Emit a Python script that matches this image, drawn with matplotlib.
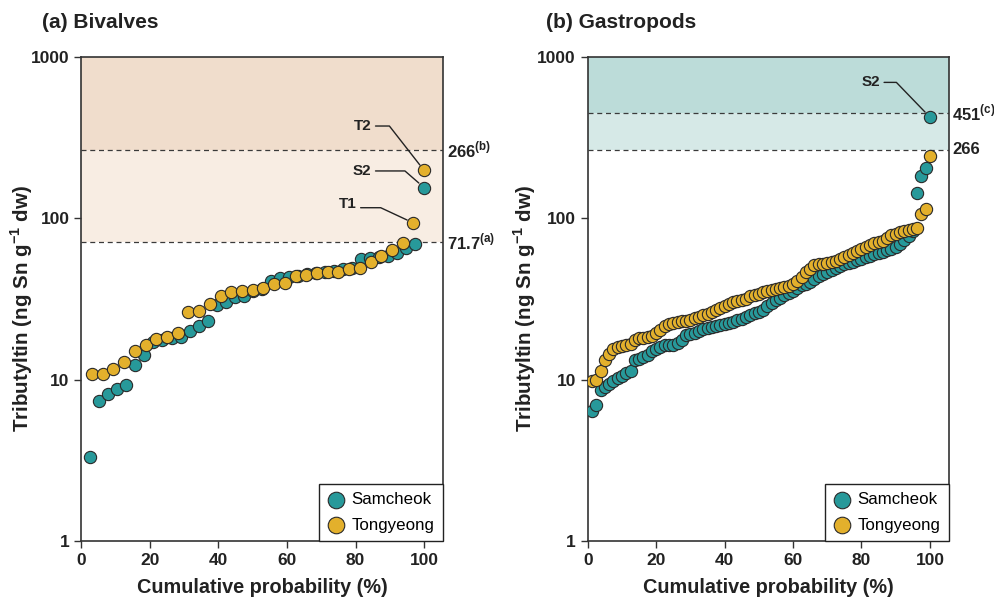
import numpy as np
import matplotlib
matplotlib.use("Agg")
import matplotlib.pyplot as plt
from matplotlib.ticker import FixedLocator, NullLocator
import matplotlib.transforms as mtransforms

plt.rcParams['font.family'] = ['Liberation Sans', 'DejaVu Sans']
plt.rcParams['mathtext.fontset'] = 'custom'
plt.rcParams['mathtext.rm'] = 'Liberation Sans'
plt.rcParams['mathtext.bf'] = 'Liberation Sans:bold'

TEAL = '#27999a'
GOLD = '#e3b02c'

# --- (a) Bivalves: TBT (ng Sn/g dw), sorted ---
biv_samcheok = [3.3, 7.4, 8.1, 8.8, 9.3, 12.4, 14.3, 17.2, 17.6, 18.1,
                18.5, 20.1, 21.6, 23.2, 29.0, 30.5, 32.7, 33.2, 35.2, 36.5,
                40.9, 42.5, 43.5, 44.0, 45.0, 46.0, 46.5, 47.2, 48.6, 49.5,
                55.7, 56.6, 57.4, 58.0, 60.8, 65.8, 69.1, 155]
biv_tongyeong = [10.9, 10.9, 11.7, 12.9, 15.1, 16.3, 17.9, 18.5, 19.4, 26.4,
                 26.8, 29.6, 32.9, 34.8, 35.5, 36.0, 37.0, 39.4, 39.8, 44.0,
                 44.4, 45.9, 46.3, 46.5, 48.6, 49.1, 53.9, 58.4, 63.4, 70.1,
                 93.6, 198]

# --- (b) Gastropods ---
gas_samcheok = [6.4, 7.0, 8.6, 9.0, 9.4, 9.8, 10.2, 10.6, 11.0, 11.3,
                13.2, 13.5, 13.9, 14.3, 15.0, 15.6, 16.0, 16.3, 16.4, 16.5,
                16.9, 17.6, 18.8, 19.2, 19.5, 20.1, 20.5, 20.8, 21.2, 21.5,
                21.8, 22.2, 22.6, 22.9, 23.3, 23.8, 24.5, 25.2, 25.9, 26.3,
                27.2, 28.5, 29.8, 31.0, 32.3, 33.3, 34.4, 35.5, 37.0, 38.6,
                39.2, 40.2, 42.0, 43.6, 45.0, 46.4, 47.8, 49.4, 50.7, 51.8,
                52.8, 53.9, 55.0, 56.1, 57.3, 58.5, 59.7, 60.9, 62.1, 63.4,
                64.9, 66.5, 69.0, 73.0, 77.5, 84.0, 143, 183, 205, 424]
gas_tongyeong = [9.8, 10.0, 11.3, 13.2, 14.4, 15.5, 15.9, 16.2, 16.4, 16.7,
                 17.5, 18.1, 18.2, 18.4, 18.6, 19.5, 20.4, 21.4, 22.0, 22.4,
                 22.7, 23.0, 23.2, 23.6, 24.0, 24.6, 25.2, 25.6, 26.2, 27.2,
                 28.0, 28.8, 29.5, 30.2, 30.7, 31.1, 31.8, 32.8, 33.6, 34.2,
                 34.9, 35.4, 36.0, 36.6, 37.0, 37.4, 37.8, 39.0, 41.0, 43.5,
                 46.2, 48.8, 51.1, 51.9, 52.4, 53.0, 53.5, 54.3, 55.9, 57.6,
                 59.4, 61.3, 63.1, 64.9, 66.7, 68.3, 69.9, 71.2, 72.5, 75.0,
                 78.8, 80.5, 82.0, 83.6, 84.5, 85.8, 87.5, 107, 115, 244]

# guideline values and labels
biv_lines = [71.7, 266]
biv_line_labels = [r'71.7$^{\mathbf{(a)}}$', r'266$^{\mathbf{(b)}}$']
gas_lines = [266, 451]
gas_line_labels = ['266', r'451$^{\mathbf{(c)}}$']


def cum_prob(vals):
    n = len(vals)
    return np.arange(1, n + 1) / n * 100


fig = plt.figure(figsize=(9.95, 5.98), dpi=100)
ax_a = fig.add_axes([0.0817, 0.0953, 0.3635, 0.8094])
ax_b = fig.add_axes([0.5907, 0.0953, 0.3628, 0.8094])


def setup(ax, lines, labels, colors, sam, ton, ylab_x):
    ax.set_yscale('log')
    ax.set_ylim(1, 1000)
    ax.set_xlim(0, 105.5)
    ax.axhspan(lines[1], 1000, color=colors[0], lw=0, zorder=0)
    ax.axhspan(lines[0], lines[1], color=colors[1], lw=0, zorder=0)
    trans = mtransforms.blended_transform_factory(ax.transAxes, ax.transData)
    for v, lab in zip(lines, labels):
        ax.axhline(v, color='#3a3a3a', lw=0.9, ls=(0, (4, 3)), zorder=1)
        ax.text(1.01, v, lab, transform=trans, ha='left', va='center',
                fontsize=12, fontweight='bold', color='#222222')
    ax.scatter(cum_prob(sam), sam, s=78, c=TEAL, edgecolors='#2a2a2a',
               linewidths=0.8, zorder=3, label='Samcheok')
    ax.scatter(cum_prob(ton), ton, s=78, c=GOLD, edgecolors='#2a2a2a',
               linewidths=0.8, zorder=3, label='Tongyeong')
    ax.yaxis.set_major_locator(FixedLocator([1, 10, 100, 1000]))
    ax.yaxis.set_minor_locator(NullLocator())
    ax.set_yticklabels(['1', '10', '100', '1000'])
    ax.set_xticks([0, 20, 40, 60, 80, 100])
    ax.tick_params(labelsize=12.5, width=1, length=5, color='#333333')
    for lab in ax.get_xticklabels() + ax.get_yticklabels():
        lab.set_fontweight('bold')
        lab.set_color('#222222')
    for sp in ax.spines.values():
        sp.set_linewidth(1.2)
        sp.set_color('#333333')
    ax.set_xlabel('Cumulative probability (%)', fontsize=14.3, fontweight='bold',
                  labelpad=7, color='#222222')
    ax.set_ylabel(r'Tributyltin (ng Sn g$^{\mathbf{-1}}$ dw)', fontsize=14.8,
                  fontweight='bold', color='#222222')
    ax.yaxis.set_label_coords(ylab_x, 0.48)
    leg = ax.legend(loc='lower right', borderaxespad=0, fancybox=False,
                    fontsize=12.2, handletextpad=0.4, borderpad=0.5,
                    labelspacing=0.62, handlelength=1.0, markerscale=1.35)
    leg.get_frame().set_edgecolor('#222222')
    leg.get_frame().set_linewidth(1.0)
    leg.get_frame().set_alpha(1)


setup(ax_a, biv_lines, biv_line_labels, ['#f0ddcc', '#f8ede3'],
      biv_samcheok, biv_tongyeong, -0.128)
setup(ax_b, gas_lines, gas_line_labels, ['#bcdcd9', '#d6e9e7'],
      gas_samcheok, gas_tongyeong, -0.138)


def label_point(ax, x, y, text, offset, angle, relpos=(1, 0.5)):
    ax.annotate(text, xy=(x, y), xytext=offset, textcoords='offset points',
                ha='right', va='center', fontsize=11, fontweight='bold',
                color='#222222', zorder=4,
                arrowprops=dict(arrowstyle='-', color='#222222', lw=1.0,
                                shrinkA=1, shrinkB=5, relpos=relpos,
                                connectionstyle=f'angle,angleA=0,angleB={angle},rad=0'))


xa_s = cum_prob(biv_samcheok)
xa_t = cum_prob(biv_tongyeong)
label_point(ax_a, xa_t[-1], biv_tongyeong[-1], 'T2', (-38, 32), 128)
label_point(ax_a, xa_s[-1], biv_samcheok[-1], 'S2', (-38, 12), 139)
label_point(ax_a, xa_t[-2], biv_tongyeong[-2], 'T1', (-41, 14), 155, relpos=(1, 0.2))
xb_s = cum_prob(gas_samcheok)
label_point(ax_b, xb_s[-1], gas_samcheok[-1], 'S2', (-36, 25), 134)

fig.text(0.042, 0.963, '(a) Bivalves', fontsize=15, fontweight='bold',
         va='center', color='#222222')
fig.text(0.549, 0.963, '(b) Gastropods', fontsize=15, fontweight='bold',
         va='center', color='#222222')

fig.savefig('out.png', dpi=100)
